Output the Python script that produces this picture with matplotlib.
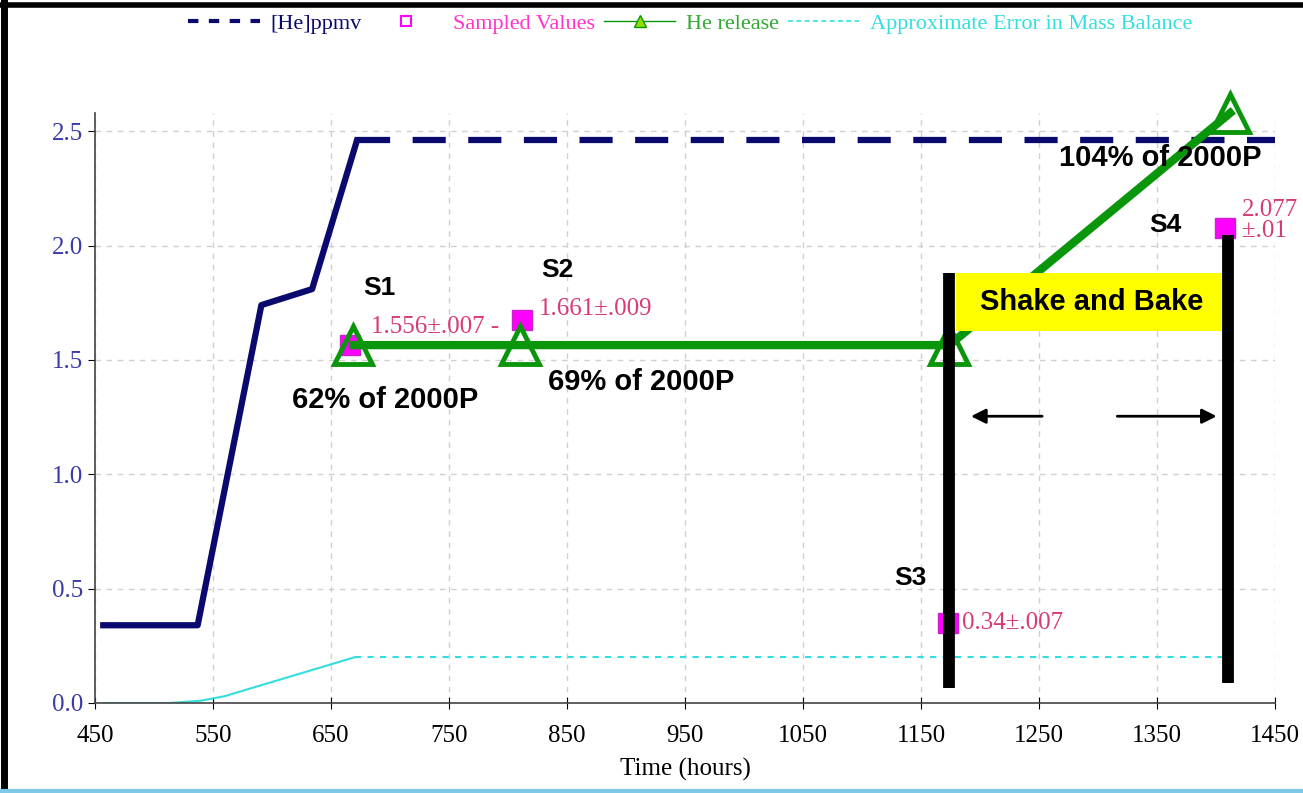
import matplotlib
matplotlib.use("Agg")
from matplotlib import pyplot as plt
from matplotlib.lines import Line2D
from matplotlib.patches import Rectangle

# values
helium_t = [457, 537, 591, 634, 672]
helium_v = [0.34, 0.34, 1.74, 1.81, 2.46]
helium_flat_t = [672, 1450]
helium_flat_v = [2.46, 2.46]

error_t = [457, 513, 540, 560, 670]
error_v = [0.0, 0.0, 0.01, 0.03, 0.20]
error_flat_t = [670, 1405]
error_flat_v = [0.20, 0.20]

sample_t = [666, 812, 1173, 1408]
sample_v = [1.565, 1.674, 0.35, 2.076]
sample_labels = ["1.556\u00b1.007 -", "1.661\u00b1.009", "0.34\u00b1.007", "2.077\n\u00b1.01"]

release_t = [669, 810, 1174, 1412]
release_v = [1.565, 1.565, 1.565, 2.58]
release_labels = ["62% of 2000P", "69% of 2000P", "104% of 2000P"]

sample_names = ["S1", "S2", "S3", "S4"]

bar_t = [1174, 1410]
bar_lo = [0.065, 0.087]
bar_hi = [1.88, 2.045]

xticks = [450, 550, 650, 750, 850, 950, 1050, 1150, 1250, 1350, 1450]
yticks = [0.0, 0.5, 1.0, 1.5, 2.0, 2.5]

NAVY = "#0a0a6e"
GREEN = "#0a960a"
MAGENTA = "#ff00ff"
PINK = "#d83a78"
CYAN = "#33dede"
SERIF = "Liberation Serif"
SANS = "Liberation Sans"

fig = plt.figure(figsize=(13.03, 7.93), dpi=100)
ax = fig.add_axes([0.0729, 0.1135, 0.9056, 0.744])

ax.set_xlim(450, 1450)
ax.set_ylim(0, 2.58)
ax.set_xticks(xticks)
ax.set_yticks(yticks)
ax.set_yticklabels([f"{v:.1f}" for v in yticks])
ax.grid(True, color="#d0d0d0", linestyle=(0, (4, 4)), linewidth=1)
ax.set_axisbelow(True)
for s in ["top", "right"]:
    ax.spines[s].set_visible(False)
for s in ["left", "bottom"]:
    ax.spines[s].set_color("#444444")
    ax.spines[s].set_linewidth(1.2)
ax.tick_params(axis="x", direction="inout", length=8, labelsize=18, pad=12)
ax.tick_params(axis="y", direction="out", length=5, labelsize=18, labelcolor="#3a3aa8")
for lab in ax.get_xticklabels() + ax.get_yticklabels():
    lab.set_family(SERIF)
ax.set_xlabel("Time (hours)", family=SERIF, fontsize=18, labelpad=8)

# error in mass balance
ax.plot(error_t, error_v, color=CYAN, lw=1.5, zorder=2)
ax.plot(error_flat_t, error_flat_v, color=CYAN, lw=1.5, ls=(0, (3, 3)), zorder=2)

# helium concentration
ax.plot(helium_t, helium_v, color=NAVY, lw=4.5, zorder=3)
ax.plot(helium_flat_t, helium_flat_v, color=NAVY, lw=4.5, ls=(0, (5.3, 3.6)),
        zorder=3, clip_on=False)

# sampled values
ax.plot(sample_t, sample_v, ls="none", marker="s", ms=15, mfc=MAGENTA,
        mec="#cc22cc", zorder=4)
offsets = [(18, 0.08), (14, 0.05), (12, 0), (14, 0.035)]
for t, v, lab, (dx, dy) in zip(sample_t, sample_v, sample_labels, offsets):
    ax.text(t + dx, v + dy, lab, color=PINK, family=SERIF, fontsize=18,
            ha="left", va="center", linespacing=0.95, zorder=6)

# he release
ax.plot(release_t, release_v, color=GREEN, lw=6, zorder=5, clip_on=False)
ax.plot(release_t, release_v, ls="none", marker="^", ms=27, mfc="none",
        mec=GREEN, mew=3.5, zorder=5, clip_on=False)

# annotation block
ax.vlines(bar_t, bar_lo, bar_hi, color="black", lw=8.5, zorder=8)
ax.add_patch(Rectangle((1180, 1.626), 225, 0.254, facecolor="#ffff00",
                       edgecolor="none", zorder=7))
ax.text(1295, 1.753, "Shake and Bake", family=SANS, weight="bold", fontsize=21,
        ha="center", va="center", zorder=9)
ax.annotate("", xy=(1190, 1.254), xytext=(1255, 1.254),
            arrowprops=dict(arrowstyle="-|>", color="black", lw=2,
                            mutation_scale=22), zorder=9)
ax.annotate("", xy=(1403, 1.254), xytext=(1314, 1.254),
            arrowprops=dict(arrowstyle="-|>", color="black", lw=2,
                            mutation_scale=22), zorder=9)

name_pos = [(691, 1.814), (842, 1.892), (1141, 0.546), (1357, 2.089)]
for name, (t, v) in zip(sample_names, name_pos):
    ax.text(t, v, name, family=SANS, weight="bold", fontsize=19,
            ha="center", va="center", zorder=9)

pct_pos = [(696, 1.324), (913, 1.403), (1353, 2.382)]
for lab, (t, v) in zip(release_labels, pct_pos):
    ax.text(t, v, lab, family=SANS, weight="bold", fontsize=21,
            ha="center", va="center", zorder=9)

# legend across the top
handles = [
    Line2D([], [], color=NAVY, lw=3, ls=(0, (2.5, 2.5))),
    Line2D([], [], ls="none", marker="s", ms=7, mfc="white", mec=MAGENTA, mew=1.5),
    Line2D([], [], color=GREEN, lw=1, marker="^", ms=8, mfc="#99dd00", mec=GREEN),
    Line2D([], [], color=CYAN, lw=1.2, ls=(0, (3, 2))),
]
labels = ["[He]ppmv", "Sampled Values", "He release", "Approximate Error in Mass Balance"]
leg = fig.legend(handles, labels, loc="center", bbox_to_anchor=(0.53, 0.97),
                 ncol=4, frameon=False, handlelength=3.2, handletextpad=0.5,
                 columnspacing=0.4, prop={"family": SERIF, "size": 16})
for txt, c in zip(leg.get_texts(), [NAVY, "#ff33cc", "#33aa33", CYAN]):
    txt.set_color(c)

# window frame around the chart
fig.add_artist(Line2D([0.003, 0.003], [0, 1], color="black", lw=5,
                      transform=fig.transFigure))
fig.add_artist(Line2D([0, 1], [0.994, 0.994], color="black", lw=4,
                      transform=fig.transFigure))
fig.add_artist(Line2D([0, 1], [0.003, 0.003], color="#7ec8e8", lw=3,
                      transform=fig.transFigure))

fig.savefig("out.png", dpi=100)
